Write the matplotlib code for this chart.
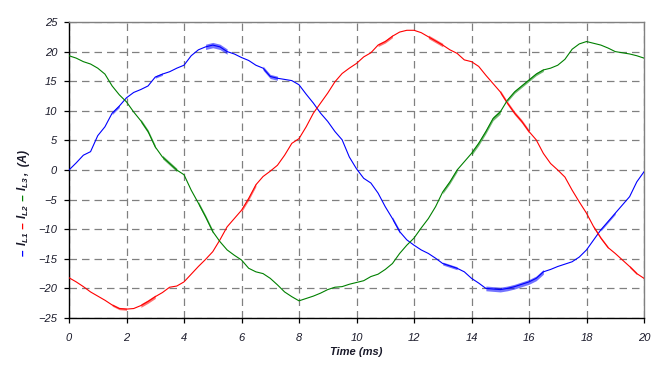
import numpy as np
import matplotlib
matplotlib.use('Agg')
import matplotlib.pyplot as plt

plt.rcParams['font.family'] = ['Liberation Sans', 'DejaVu Sans']
plt.rcParams['mathtext.fontset'] = 'custom'
plt.rcParams['mathtext.it'] = 'Liberation Sans:italic:bold'
plt.rcParams['mathtext.rm'] = 'Liberation Sans:italic:bold'

#time axis, sampled every 0.25 ms
t = np.arange(0, 20.001, 0.25)

#-I_L1 (blue), -I_L2 (red), -I_L3 (green)
i_l1 = [0.0, 1.2, 2.5, 3.1, 5.8, 7.3, 9.6, 10.8, 12.2, 13.1, 13.6, 14.2,
        15.7, 16.2, 16.6, 17.2, 17.7, 19.3, 20.3, 20.8, 21.1, 20.8, 20.0, 19.6,
        19.0, 18.5, 17.7, 17.2, 15.8, 15.5, 15.3, 15.1, 14.4, 12.8, 11.3, 9.6,
        8.2, 6.5, 5.1, 2.2, 0.2, -1.4, -2.2, -3.9, -6.2, -8.2, -10.4, -11.8,
        -12.7, -13.5, -14.1, -14.9, -15.8, -16.2, -16.6, -17.2, -18.3, -19.1,
        -20.0, -20.1, -20.2, -20.0, -19.7, -19.3, -18.9, -18.3, -17.2, -16.8,
        -16.3, -15.9, -15.5, -14.7, -13.5, -11.8, -10.1, -8.7, -7.3, -5.9,
        -4.5, -2.0, -0.3]
i_l2 = [-18.2, -18.9, -19.7, -20.6, -21.3, -22.0, -22.8, -23.4, -23.5, -23.4,
        -22.9, -22.2, -21.4, -20.7, -19.8, -19.6, -18.9, -17.6, -16.3, -15.1,
        -13.8, -11.8, -9.6, -8.2, -6.8, -4.8, -2.5, -1.1, -0.2, 0.8, 2.5, 4.5,
        5.3, 7.3, 9.6, 11.3, 13.0, 14.9, 16.3, 17.2, 18.0, 19.1, 19.8, 21.1,
        21.7, 22.6, 23.3, 23.6, 23.6, 23.2, 22.5, 21.8, 21.1, 20.3, 19.7, 18.6,
        18.3, 17.5, 16.0, 14.6, 13.2, 11.3, 9.6, 8.2, 6.5, 5.1, 2.8, 1.1, 0.0,
        -1.2, -3.4, -5.4, -7.3, -9.6, -11.5, -13.1, -14.1, -15.2, -16.3, -17.5,
        -18.3]
i_l3 = [19.3, 18.9, 18.3, 17.9, 17.2, 16.2, 14.2, 12.7, 11.5, 9.8, 8.3, 6.5,
        3.9, 2.2, 1.1, 0.0, -0.8, -3.4, -5.6, -7.9, -10.4, -12.1, -13.5, -14.4,
        -15.2, -16.6, -17.2, -17.5, -18.3, -19.4, -20.6, -21.4, -22.1, -21.7,
        -21.3, -20.8, -20.2, -19.8, -19.7, -19.3, -19.0, -18.7, -18.0, -17.6,
        -16.8, -15.8, -14.1, -12.7, -11.5, -9.8, -8.2, -6.2, -3.7, -2.0, 0.0,
        1.4, 2.8, 4.5, 6.5, 8.7, 9.8, 11.8, 13.2, 14.2, 15.2, 16.2, 16.9, 17.2,
        17.7, 18.7, 20.4, 21.3, 21.7, 21.4, 21.1, 20.6, 20.0, 19.8, 19.6, 19.3,
        18.9]

#stretches where the trace is visibly noisy: (start ms, end ms, half width A)
ripple_l1 = [(1.4, 1.8, 0.25), (3.0, 3.3, 0.2), (4.75, 5.5, 0.45),
             (6.75, 7.25, 0.35), (11.25, 11.5, 0.3), (13.0, 13.5, 0.25),
             (14.5, 16.5, 0.4), (18.5, 19.0, 0.2)]
ripple_l2 = [(1.5, 2.0, 0.2), (2.5, 3.0, 0.3), (6.0, 6.5, 0.3),
             (10.75, 11.25, 0.25), (12.5, 13.0, 0.3), (15.0, 16.0, 0.3),
             (18.25, 18.75, 0.2), (19.5, 19.75, 0.2)]
ripple_l3 = [(2.5, 3.0, 0.3), (3.25, 3.75, 0.3), (4.5, 5.0, 0.3),
             (13.0, 13.5, 0.3), (14.0, 15.0, 0.35), (15.25, 16.5, 0.25)]

xticks = np.arange(0, 21, 2)
yticks = np.arange(-25, 26, 5)

series = [(i_l1, ripple_l1, '#0000ff'),
          (i_l2, ripple_l2, '#ff0000'),
          (i_l3, ripple_l3, '#008000')]

fig = plt.figure(figsize=(6.7, 3.71), dpi=100)
ax = fig.add_axes([69/670, 1 - 318/371, (644 - 69)/670, (318 - 22)/371])

for vals, ripple, col in series:
    y = np.array(vals)
    ax.plot(t, y, color=col, lw=0.8, zorder=3)
    for t0, t1, hw in ripple:
        m = (t >= t0) & (t <= t1)
        ax.fill_between(t[m], y[m] - hw, y[m] + hw, color=col, lw=0,
                        alpha=0.55, zorder=3)

ax.set_xlim(0, 20)
ax.set_ylim(-25, 25)
ax.set_xticks(xticks)
ax.set_yticks(yticks)
ax.grid(True, color='#808080', ls=(0, (6, 4)), lw=0.9)
ax.set_axisbelow(True)

for s in ['top', 'right']:
    ax.spines[s].set_color('#808080')
    ax.spines[s].set_linewidth(1.0)
for s in ['left', 'bottom']:
    ax.spines[s].set_color('black')
    ax.spines[s].set_linewidth(1.0)

ax.tick_params(axis='y', direction='out', length=3.5, width=0.9, pad=5,
               labelsize=8)
ax.tick_params(axis='x', direction='out', length=3.5, width=0.9, pad=7,
               labelsize=8)
for lab in ax.get_xticklabels() + ax.get_yticklabels():
    lab.set_fontstyle('italic')
    lab.set_color('#1a1a2a')

ax.set_xlabel('Time (ms)', fontsize=8, style='italic', fontweight='bold',
              color='#1a1a2a', labelpad=3)

#coloured y label, built piece by piece going upwards
pieces = [('\u2013 ', '#0000ff'), ('$I_{L1}$', '#1a1a2a'),
          (' \u2013 ', '#ff0000'), ('$I_{L2}$', '#1a1a2a'),
          (' \u2013 ', '#008000'), ('$I_{L3}$', '#1a1a2a'),
          (',  (A)', '#1a1a2a')]
fig.canvas.draw()
renderer = fig.canvas.get_renderer()
xpos = 27 / 670
ypos = 1 - 256 / 371
for txt, col in pieces:
    tt = fig.text(xpos, ypos, txt, rotation=90, rotation_mode='anchor',
                  ha='left', va='baseline', fontsize=8.5, style='italic',
                  fontweight='bold', color=col)
    ext = tt.get_window_extent(renderer)
    ypos += ext.height / fig.bbox.height

fig.savefig('out.png', dpi=100)
